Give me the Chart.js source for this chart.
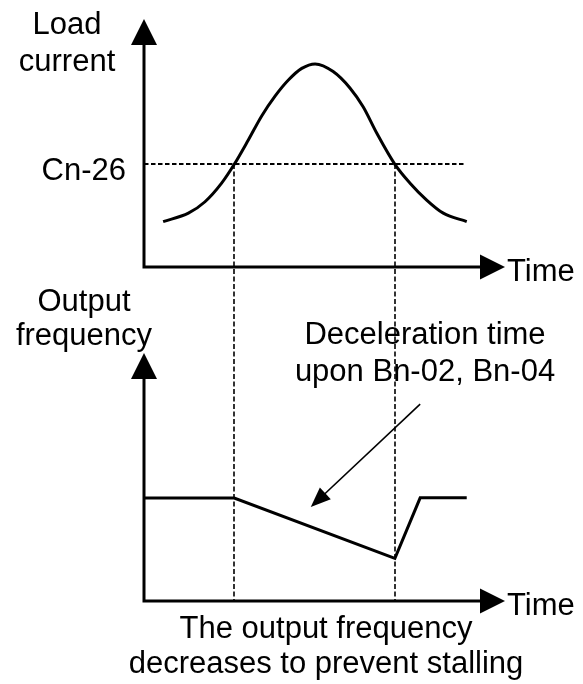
<!DOCTYPE html>
<html>
<head>
<meta charset="utf-8">
<script src="https://cdn.jsdelivr.net/npm/chart.js@4/dist/chart.umd.min.js"></script>
<style>
  html, body { margin: 0; padding: 0; background: #fff; }
  #wrap { width: 583px; height: 684px; }
</style>
</head>
<body>
<div id="wrap"><canvas id="stallChart" width="583" height="684"></canvas></div>
<script>
// time axis runs 0..100 for both panels
const timeLoad = [5.3, 12.3, 16.9, 21.5, 25.0, 28.9, 32.6, 36.3, 40.0, 43.7, 47.4,
                  52.4, 57.1, 60.7, 64.5, 69.5, 73.7, 78.3, 82.9, 89.4];
const loadCurrent = [18.3, 21.7, 26.3, 33.8, 41.4, 51.2, 60.9, 68.9, 75.4, 80.1, 81.9,
                     78.8, 72.1, 64.6, 53.9, 41.4, 33.8, 27.0, 21.7, 18.3];
const cn26Level = 41.5;
const cn26End = 89;

const timeFreq = [0, 25.0, 69.5, 76.5, 89.4];
const outputFreq = [41.5, 41.5, 17.2, 41.6, 41.6];

// moments where load crosses Cn-26
const stallTimes = [25.0, 69.5];

// pointer to the deceleration slope (time, frequency)
const pointerFrom = [76.5, 79.4];
const pointerTo = [46.2, 37.9];

const FONT = '31px "Liberation Sans", Arial, sans-serif';

function pts(xs, ys) {
  return xs.map((x, i) => ({ x: x, y: ys[i] }));
}

function arrowHead(ctx, x1, y1, x2, y2, len, half) {
  const a = Math.atan2(y2 - y1, x2 - x1);
  ctx.beginPath();
  ctx.moveTo(x2, y2);
  ctx.lineTo(x2 - len * Math.cos(a) + half * Math.sin(a), y2 - len * Math.sin(a) - half * Math.cos(a));
  ctx.lineTo(x2 - len * Math.cos(a) - half * Math.sin(a), y2 - len * Math.sin(a) + half * Math.cos(a));
  ctx.closePath();
  ctx.fill();
}

const diagram = {
  id: 'diagram',
  beforeDatasetsDraw(chart) {
    const { ctx, scales: { x, yLoad, yFreq } } = chart;
    ctx.save();
    ctx.strokeStyle = '#000';
    ctx.lineWidth = 1.6;
    ctx.setLineDash([5, 2.5]);
    stallTimes.forEach(t => {
      const px = Math.round(x.getPixelForValue(t));
      ctx.beginPath();
      ctx.moveTo(px, yLoad.getPixelForValue(cn26Level));
      ctx.lineTo(px, yFreq.getPixelForValue(0));
      ctx.stroke();
    });
    ctx.restore();
  },
  afterDatasetsDraw(chart) {
    const { ctx, scales: { x, yLoad, yFreq } } = chart;
    const x0 = x.getPixelForValue(0);
    const xEnd = x.getPixelForValue(100);
    ctx.save();
    ctx.strokeStyle = '#000';
    ctx.fillStyle = '#000';

    // axes with arrows
    [[yLoad, 100], [yFreq, 100]].forEach(([ys, top]) => {
      const y0 = ys.getPixelForValue(0);
      const yTop = ys.getPixelForValue(top);
      ctx.lineWidth = 3;
      ctx.lineJoin = 'miter';
      ctx.beginPath();
      ctx.moveTo(x0, yTop + 24);
      ctx.lineTo(x0, y0);
      ctx.lineTo(xEnd - 24, y0);
      ctx.stroke();
      arrowHead(ctx, x0, y0, x0, yTop, 26, 13);
      arrowHead(ctx, x0, y0, xEnd, y0, 25, 12.5);

      ctx.font = FONT;
      ctx.textAlign = 'left';
      ctx.textBaseline = 'alphabetic';
      ctx.fillText('Time', xEnd + 2, y0 + 14);
    });

    // pointer arrow
    const fx = x.getPixelForValue(pointerFrom[0]), fy = yFreq.getPixelForValue(pointerFrom[1]);
    const tx = x.getPixelForValue(pointerTo[0]), ty = yFreq.getPixelForValue(pointerTo[1]);
    const a = Math.atan2(ty - fy, tx - fx);
    ctx.lineWidth = 1.6;
    ctx.beginPath();
    ctx.moveTo(fx, fy);
    ctx.lineTo(tx - 15 * Math.cos(a), ty - 15 * Math.sin(a));
    ctx.stroke();
    arrowHead(ctx, fx, fy, tx, ty, 20, 8);

    // labels
    ctx.font = FONT;
    ctx.textBaseline = 'alphabetic';
    ctx.textAlign = 'center';
    ctx.fillText('Load', 67, 34);
    ctx.fillText('current', 67, 71);
    ctx.fillText('Output', 84, 311);
    ctx.fillText('frequency', 84, 345);
    ctx.fillText('Deceleration time', 425, 344);
    ctx.fillText('upon Bn-02, Bn-04', 425, 381);
    ctx.fillText('The output frequency', 326, 638);
    ctx.fillText('decreases to prevent stalling', 326, 673);
    ctx.textAlign = 'right';
    ctx.fillText('Cn-26', 126, yLoad.getPixelForValue(cn26Level) + 16);
    ctx.restore();
  }
};

new Chart(document.getElementById('stallChart'), {
  type: 'line',
  data: {
    datasets: [
      {
        label: 'Load current',
        data: pts(timeLoad, loadCurrent),
        yAxisID: 'yLoad',
        borderColor: '#000',
        borderWidth: 3,
        pointRadius: 0,
        cubicInterpolationMode: 'monotone'
      },
      {
        label: 'Cn-26',
        data: [{ x: 0, y: cn26Level }, { x: cn26End, y: cn26Level }],
        yAxisID: 'yLoad',
        borderColor: '#000',
        borderWidth: 2,
        borderDash: [4.5, 2.5],
        pointRadius: 0
      },
      {
        label: 'Output frequency',
        data: pts(timeFreq, outputFreq),
        yAxisID: 'yFreq',
        borderColor: '#000',
        borderWidth: 3,
        pointRadius: 0,
        tension: 0
      }
    ]
  },
  options: {
    responsive: false,
    animation: false,
    events: [],
    layout: { padding: { left: 144, right: 78, top: 19, bottom: 83 } },
    plugins: { legend: { display: false }, tooltip: { enabled: false } },
    scales: {
      x: { type: 'linear', min: 0, max: 100, display: false },
      yLoad: { type: 'linear', min: -134.7, max: 100, display: false },
      yFreq: { type: 'linear', min: 0, max: 234.7, display: false }
    }
  },
  plugins: [diagram]
});
</script>
</body>
</html>
